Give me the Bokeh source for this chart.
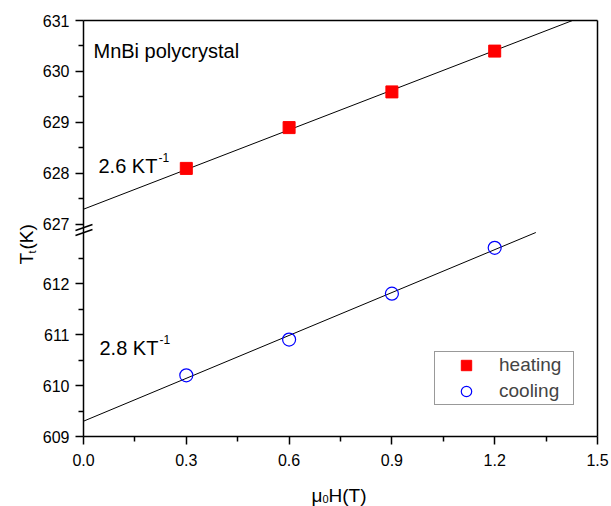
import math
from bokeh.plotting import figure
from bokeh.models import (FixedTicker, Range1d, Label, Arrow, Legend, LegendItem,
                          PrintfTickFormatter, LinearAxis)
from bokeh.embed import file_html
from bokeh.resources import INLINE

# ---------------- data ----------------
field = [0.3, 0.6, 0.9, 1.2]                      # mu0 H (T)
t_heating = [628.1, 628.9, 629.6, 630.4]          # Tt (K), heating
t_cooling = [610.2, 610.9, 611.8, 612.7]          # Tt (K), cooling
fit_heat_x = [0.0, 1.427]
fit_heat_y = [627.3, 631.0]
fit_cool_x = [0.0, 1.32]
fit_cool_y = [609.3, 613.0]
x_ticks = [0.0, 0.3, 0.6, 0.9, 1.2, 1.5]
y_ticks_low = [609, 610, 611, 612]
y_ticks_high = [627, 628, 629, 630, 631]
slope_labels = ["2.6 KT", "2.8 KT"]

FONT = "Liberation Sans"

# broken y axis: map real temperature onto one continuous scale
LOW_BASE = 609
HIGH_BASE = 627
HIGH_OFFSET = 4.157


def brk(t):
    return t - LOW_BASE if t < 620 else t - HIGH_BASE + HIGH_OFFSET


X_MIN, X_MAX = 0.0, 1.5
Y_TOP = brk(631)

W, H = 611, 506
L, R, T, B = 83, 14, 20, 70          # plot-box margins inside the canvas
FW, FH = W - L - R, H - T - B


def sx(px):
    return (px - L) * (X_MAX - X_MIN) / FW


def sy(py):
    return (T + FH - py) * Y_TOP / FH


# the frame covers the whole canvas; axes are pinned at the plot box edges
p = figure(width=W, height=H,
           x_range=Range1d(sx(0), sx(W)), y_range=Range1d(sy(H), sy(0)),
           output_backend="svg", toolbar_location=None,
           x_axis_location=None, y_axis_location=None,
           min_border=0, min_border_left=0, min_border_right=0,
           min_border_top=0, min_border_bottom=0)
p.background_fill_color = "white"
p.border_fill_color = "white"
p.outline_line_color = None
p.xgrid.visible = False
p.ygrid.visible = False

xaxis = LinearAxis(fixed_location=0, bounds=(X_MIN, X_MAX),
                   ticker=FixedTicker(ticks=x_ticks,
                                      minor_ticks=[a + 0.15 for a in x_ticks[:-1]]),
                   formatter=PrintfTickFormatter(format="%.1f"))
y_all = y_ticks_low + y_ticks_high
y_major = [brk(t) for t in y_all]
y_minor = [brk(t) + 0.5 for t in y_ticks_low] + [brk(t) + 0.5 for t in y_ticks_high[:-1]]
yaxis = LinearAxis(fixed_location=X_MIN, bounds=(0, Y_TOP),
                   ticker=FixedTicker(ticks=y_major, minor_ticks=y_minor),
                   major_label_overrides={brk(t): str(t) for t in y_all})
top_axis = LinearAxis(fixed_location=Y_TOP, bounds=(X_MIN, X_MAX))
right_axis = LinearAxis(fixed_location=X_MAX, bounds=(0, Y_TOP))

for ax in (xaxis, yaxis, top_axis, right_axis):
    ax.axis_line_color = "black"
    ax.axis_line_width = 1.5
    ax.major_tick_line_color = "black"
    ax.minor_tick_line_color = "black"
    ax.major_tick_line_width = 1.5
    ax.minor_tick_line_width = 1.5
    ax.major_tick_in = 0
    ax.major_tick_out = 8
    ax.minor_tick_in = 0
    ax.minor_tick_out = 5
    ax.major_label_text_font = FONT
    ax.major_label_text_font_size = "16px"
    ax.major_label_text_color = "black"
for ax in (top_axis, right_axis):
    ax.major_tick_line_color = None
    ax.minor_tick_line_color = None
    ax.major_label_text_font_size = "0px"
    ax.major_label_text_color = None
yaxis.major_label_standoff = 6
xaxis.major_label_standoff = 9

p.add_layout(xaxis, "below")
p.add_layout(yaxis, "left")
p.add_layout(top_axis, "above")
p.add_layout(right_axis, "right")

# fit lines
p.line(fit_heat_x, [brk(t) for t in fit_heat_y], line_color="black", line_width=1)
p.line(fit_cool_x, [brk(t) for t in fit_cool_y], line_color="black", line_width=1)

# data
r_h = p.scatter(field, [brk(t) for t in t_heating], marker="square", size=12,
                fill_color="#ff0000", line_color="#ff0000")
r_c = p.scatter(field, [brk(t) for t in t_cooling], marker="circle", size=13,
                fill_color=None, line_color="#0000ff", line_width=1.2)

legend = Legend(items=[LegendItem(label="heating", renderers=[r_h]),
                       LegendItem(label="cooling", renderers=[r_c])],
                location=(434, H - 405),
                glyph_width=62, glyph_height=26, label_standoff=2, spacing=0,
                label_width=74, label_height=20,
                padding=0, margin=0, border_line_color="#333333", border_line_width=1,
                label_text_font=FONT, label_text_font_size="19px",
                background_fill_color="white", background_fill_alpha=1.0)
p.add_layout(legend)

# axis break marks
for (x0, y0, x1, y1) in [(75, 230, 92, 224), (75, 235, 92, 229)]:
    p.add_layout(Arrow(end=None, start=None, x_start=sx(x0), y_start=sy(y0),
                       x_end=sx(x1), y_end=sy(y1), line_color="black", line_width=1.5))


def label(px, py, text, size, angle=0.0, align="left", baseline="alphabetic"):
    p.add_layout(Label(x=sx(px), y=sy(py), text=text, text_font=FONT,
                       text_font_size=size, text_color="black", angle=angle,
                       text_align=align, text_baseline=baseline))


label(93, 50, "MnBi polycrystal", "20px")
label(98, 165, slope_labels[0], "20px")
label(158, 157, "-1", "12px")
label(99, 347, slope_labels[1], "20px")
label(159, 339, "-1", "12px")

# x axis title: mu0H(T)
label(311, 495, "μ", "19px")
label(322, 498, "0", "11px")
label(328, 495, "H(T)", "19px")

# y axis title: Tt (K)
label(26, 264, "T", "19px", angle=math.pi / 2)
label(31, 253, "t", "11px", angle=math.pi / 2)
label(26, 249, "(K)", "19px", angle=math.pi / 2)

open("out.html", "w").write(file_html(p, INLINE))
